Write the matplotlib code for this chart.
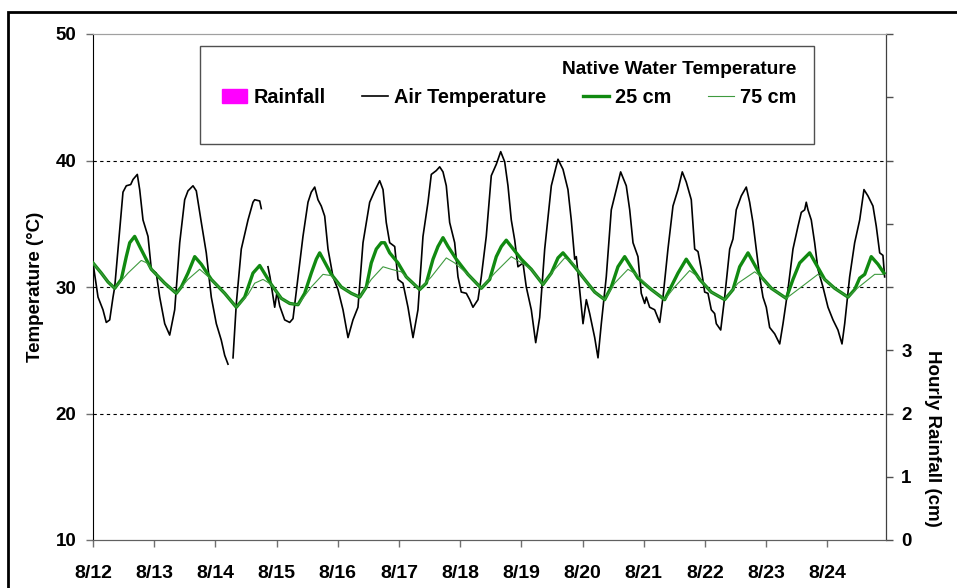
import numpy as np
import matplotlib
matplotlib.use('Agg')
from matplotlib import pyplot as plt
from matplotlib.lines import Line2D
from matplotlib.patches import Patch, Rectangle

plt.rcParams['font.family'] = ['Liberation Sans', 'DejaVu Sans']
plt.rcParams['font.weight'] = 'bold'
plt.rcParams['axes.labelweight'] = 'bold'

nan = float('nan')

# days since 8/12 00:00
air_day = [0.000, 0.082, 0.163, 0.217, 0.273, 0.327, 0.355, 0.490, 0.544, 0.616, 0.654, 0.724, 0.763, 0.817,
           0.899, 0.953, 1.034, 1.090, 1.172, 1.253, 1.335, 1.417, 1.498, 1.552, 1.634, 1.688, 1.770, 1.851,
           1.933, 2.015, 2.096, 2.152, 2.206, 2.247, 2.288, 2.342, 2.423, 2.533, 2.614, 2.642, 2.724, 2.750,
           2.800, 2.859, 2.892, 2.969, 3.007, 3.051, 3.132, 3.214, 3.268, 3.350, 3.431, 3.513, 3.567, 3.623,
           3.676, 3.730, 3.786, 3.840, 3.922, 4.003, 4.085, 4.167, 4.248, 4.330, 4.412, 4.521, 4.603, 4.685,
           4.739, 4.792, 4.848, 4.930, 4.984, 5.065, 5.147, 5.229, 5.310, 5.392, 5.474, 5.528, 5.609, 5.665,
           5.719, 5.773, 5.828, 5.910, 5.964, 6.018, 6.100, 6.155, 6.209, 6.291, 6.345, 6.426, 6.508, 6.590,
           6.662, 6.727, 6.781, 6.835, 6.891, 6.944, 7.026, 7.080, 7.162, 7.234, 7.299, 7.381, 7.489, 7.598,
           7.680, 7.761, 7.815, 7.871, 7.897, 7.952, 8.007, 8.061, 8.116, 8.198, 8.252, 8.306, 8.387, 8.469,
           8.551, 8.622, 8.714, 8.770, 8.824, 8.905, 8.959, 9.015, 9.041, 9.096, 9.178, 9.260, 9.314, 9.395,
           9.477, 9.559, 9.629, 9.694, 9.776, 9.832, 9.886, 9.940, 9.995, 10.049, 10.103, 10.158, 10.185,
           10.257, 10.322, 10.404, 10.458, 10.511, 10.593, 10.675, 10.730, 10.784, 10.838, 10.894, 10.948,
           11.002, 11.057, 11.139, 11.221, 11.275, 11.356, 11.438, 11.520, 11.574, 11.629, 11.655, 11.683,
           11.737, 11.792, 11.846, 11.928, 12.010, 12.092, 12.173, 12.239, 12.283, 12.364, 12.446, 12.528,
           12.598, 12.663, 12.745, 12.799, 12.855, 12.908, 12.936]
air_temp = [31.9, 29.2, 28.2, 27.2, 27.4, 29.2, 30.0, 37.5, 38.0, 38.1, 38.5, 38.9, 37.7, 35.3,
            34.0, 31.4, 31.1, 29.2, 27.1, 26.2, 28.2, 33.5, 36.9, 37.6, 38.0, 37.6, 35.1, 32.7,
            29.2, 27.1, 25.8, 24.6, 23.9, nan, 24.4, 28.7, 33.0, 35.3, 36.7, 36.9, 36.8, 36.2,
            nan, 31.6, 30.8, 28.4, 29.6, 28.5, 27.4, 27.2, 27.5, 30.8, 34.0, 36.7, 37.5, 37.9,
            36.9, 36.4, 35.6, 33.0, 30.8, 29.8, 28.2, 26.0, 27.4, 28.4, 33.5, 36.7, 37.6, 38.4,
            37.7, 35.1, 33.5, 33.2, 30.6, 30.3, 28.4, 26.0, 28.2, 34.0, 36.7, 38.9, 39.2, 39.5,
            39.1, 38.0, 35.1, 33.5, 30.8, 29.6, 29.5, 29.0, 28.4, 29.0, 30.8, 34.0, 38.8, 39.7,
            40.7, 39.9, 38.0, 35.3, 33.7, 31.6, 31.9, 30.0, 28.2, 25.6, 27.6, 33.0, 38.0, 40.1,
            39.3, 37.7, 35.3, 32.2, 32.4, 29.8, 27.1, 29.0, 27.9, 26.0, 24.4, 27.1, 30.8, 36.1,
            37.7, 39.1, 38.0, 36.1, 33.5, 32.4, 29.5, 28.7, 29.2, 28.4, 28.2, 27.2, 29.2, 33.0,
            36.4, 37.7, 39.1, 38.3, 36.9, 33.0, 32.8, 31.4, 29.6, 29.5, 28.2, 27.9, 27.1,
            26.6, 29.2, 33.0, 33.8, 36.1, 37.2, 37.9, 36.7, 35.1, 33.0, 30.8, 29.2,
            28.4, 26.8, 26.3, 25.5, 27.1, 29.8, 33.0, 34.8, 35.9, 36.1, 36.7, 36.1,
            35.3, 33.5, 31.4, 30.0, 28.4, 27.4, 26.6, 25.5, 27.1, 30.8, 33.5, 35.3,
            37.7, 37.2, 36.4, 34.8, 32.7, 32.5, 30.8]

w25_day = [0.000, 0.136, 0.245, 0.355, 0.462, 0.544, 0.600, 0.681, 0.763, 0.953, 1.172, 1.361, 1.443, 1.552,
           1.662, 1.770, 1.933, 2.152, 2.342, 2.479, 2.614, 2.724, 2.913, 3.077, 3.214, 3.350, 3.459, 3.567,
           3.649, 3.704, 3.894, 4.057, 4.221, 4.358, 4.466, 4.547, 4.629, 4.711, 4.766, 4.848, 4.984, 5.119,
           5.338, 5.446, 5.556, 5.637, 5.719, 5.801, 5.936, 6.127, 6.345, 6.482, 6.590, 6.672, 6.753, 6.998,
           7.162, 7.353, 7.489, 7.598, 7.680, 7.871, 8.034, 8.198, 8.361, 8.469, 8.578, 8.688, 8.905, 9.123,
           9.341, 9.559, 9.694, 9.913, 10.103, 10.322, 10.458, 10.567, 10.703, 10.920, 11.084, 11.328, 11.438,
           11.547, 11.711, 11.956, 12.119, 12.337, 12.446, 12.528, 12.610, 12.717, 12.827, 12.925]
w25_temp = [31.9, 31.1, 30.4, 29.9, 30.6, 32.4, 33.5, 34.0, 33.2, 31.4, 30.3, 29.5, 30.0, 31.1,
            32.4, 31.8, 30.6, 29.5, 28.4, 29.2, 31.1, 31.7, 30.2, 29.1, 28.7, 28.6, 29.5, 31.1,
            32.2, 32.7, 31.0, 30.0, 29.5, 29.2, 30.0, 31.9, 33.0, 33.5, 33.5, 32.7, 31.9, 30.8,
            29.8, 30.3, 32.2, 33.2, 33.9, 33.2, 32.2, 31.0, 29.9, 30.6, 32.4, 33.2, 33.7, 32.2,
            31.4, 30.2, 31.1, 32.3, 32.7, 31.6, 30.6, 29.6, 29.0, 30.0, 31.6, 32.4, 30.7, 29.8,
            29.0, 31.1, 32.2, 30.6, 29.6, 29.0, 29.8, 31.6, 32.7, 30.8, 29.9, 29.1, 30.6,
            31.9, 32.7, 30.6, 29.9, 29.2, 29.8, 30.7, 31.0, 32.4, 31.8, 31.1]

w75_day = [0.000, 0.136, 0.245, 0.355, 0.572, 0.789, 0.882, 0.953, 1.172, 1.361, 1.552, 1.743, 1.933, 2.152,
           2.342, 2.533, 2.642, 2.778, 2.913, 3.077, 3.214, 3.350, 3.567, 3.758, 3.894, 4.057, 4.221, 4.358,
           4.547, 4.739, 4.874, 5.038, 5.119, 5.338, 5.528, 5.773, 5.910, 6.127, 6.345, 6.564, 6.835, 6.972,
           7.162, 7.353, 7.544, 7.708, 7.815, 8.034, 8.198, 8.361, 8.524, 8.742, 8.877, 9.123, 9.341, 9.505,
           9.750, 9.886, 10.103, 10.322, 10.539, 10.812, 10.920, 11.084, 11.328, 11.574, 11.846, 11.956,
           12.119, 12.337, 12.489, 12.773, 12.908]
w75_temp = [31.9, 31.1, 30.4, 29.9, 31.1, 32.1, 31.9, 31.4, 30.3, 29.5, 30.6, 31.4, 30.6, 29.5,
            28.4, 29.4, 30.3, 30.6, 30.2, 29.1, 28.7, 28.6, 30.0, 31.0, 30.9, 30.0, 29.5, 29.2,
            30.6, 31.6, 31.4, 31.2, 30.8, 29.8, 30.8, 32.3, 31.9, 31.0, 29.9, 31.1, 32.4, 32.0,
            31.4, 30.2, 31.4, 32.3, 32.0, 30.6, 29.6, 29.0, 30.3, 31.4, 31.0, 29.8, 29.0, 30.0,
            31.3, 30.8, 29.6, 29.0, 30.3, 31.2, 30.8, 29.9, 29.1, 30.0, 31.0, 30.6,
            29.9, 29.2, 29.9, 31.0, 31.0]

# no rainfall recorded in this period
rain_day = []
rain_cm = []

date_labels = ['8/12', '8/13', '8/14', '8/15', '8/16', '8/17', '8/18', '8/19', '8/20', '8/21', '8/22', '8/23', '8/24']
temp_ticks = [10, 20, 30, 40, 50]
temp_grid = [20, 30, 40]
rain_ticks = [0, 1, 2, 3, 4, 5, 6, 7, 8]
rain_labels = ['0', '1', '2', '3', '', '', '', '', '']

fig = plt.figure(figsize=(9.57, 5.88), dpi=100)
ax = fig.add_axes([93/957, 1-540/588, 793/957, 506/588])
ax2 = ax.twinx()

for g in temp_grid:
    ax.axhline(g, color='black', lw=0.8, ls=(0, (3, 3)), zorder=1)

ax.plot(air_day, air_temp, color='black', lw=1.2, zorder=3)
ax.plot(w25_day, w25_temp, color='#118a11', lw=2.4, zorder=4)
ax.plot(w75_day, w75_temp, color='#3f9a3f', lw=0.8, zorder=5)
ax2.bar(rain_day, rain_cm, width=1/24, color='magenta')

ax.set_xlim(0, 12.958)
ax.set_ylim(10, 50)
ax2.set_ylim(0, 8)
ax.set_xticks(range(len(date_labels)))
ax.set_xticklabels(date_labels)
ax.set_yticks(temp_ticks)
ax2.set_yticks(rain_ticks)
ax2.set_yticklabels(rain_labels)

ax.tick_params(axis='x', length=5, width=1, color='#707070', pad=13, labelsize=14)
ax.tick_params(axis='y', length=5, width=1, color='#707070', pad=7, labelsize=13.5)
ax2.tick_params(axis='y', length=5, width=1, color='#505050', pad=6, labelsize=13.5)

ax.spines['left'].set_color('black')
ax.spines['bottom'].set_color('#606060')
ax2.spines['bottom'].set_color('#606060')
ax.spines['top'].set_color('#a0a0a0')
ax2.spines['top'].set_color('#a0a0a0')
ax2.spines['right'].set_color('#404040')
ax2.spines['left'].set_visible(False)

ax.set_ylabel('Temperature (\u00b0C)', fontsize=13.5, va='center')
ax.yaxis.set_label_coords(-0.073, 0.5)
ax2.set_ylabel('Hourly Rainfall (cm)', fontsize=13.5, rotation=270, va='center')
ax2.yaxis.set_label_coords(1.059, 0.2)

handles = [Patch(color='magenta'),
           Line2D([], [], color='black', lw=1.2),
           Line2D([], [], color='#118a11', lw=2.4),
           Line2D([], [], color='#3f9a3f', lw=0.8)]
labels = ['Rainfall', 'Air Temperature', '25 cm', '75 cm']
leg = fig.legend(handles, labels, ncol=4, frameon=False, loc='upper right',
                 bbox_to_anchor=(796/957, 1-61/588), title='Native Water Temperature',
                 alignment='right', fontsize=14.3, title_fontsize=13.8, handlelength=1.3,
                 handleheight=0.75, handletextpad=0.3, columnspacing=1.85,
                 labelspacing=0.5, borderpad=0, borderaxespad=0)
leg.get_title().set_fontweight('bold')
fig.patches.append(Rectangle((200/957, 1-144/588), 614/957, 98/588, transform=fig.transFigure,
                             fill=False, edgecolor='#505050', lw=1, figure=fig))

# outer frame (left and top edges only show)
fig.patches.append(Rectangle((8/957, -0.1), 1.2, 1.1-12/588, transform=fig.transFigure,
                             fill=False, edgecolor='black', lw=2, figure=fig))

fig.savefig('out.png', dpi=100)
